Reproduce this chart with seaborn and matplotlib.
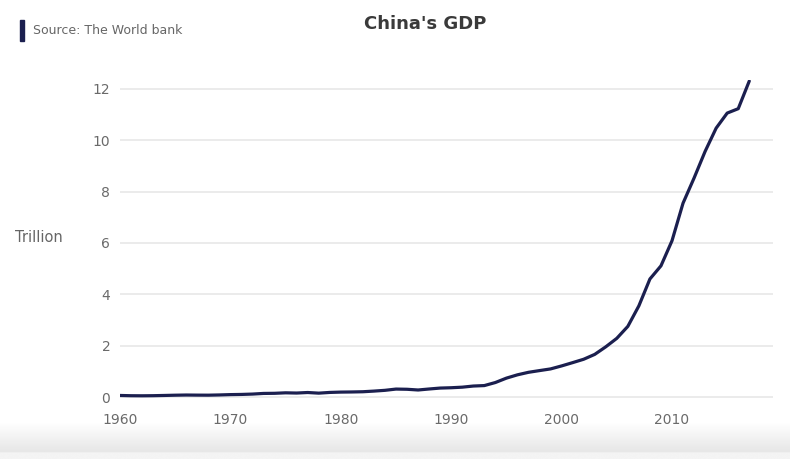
import numpy as np
import pandas as pd
import matplotlib
matplotlib.use("Agg")
import matplotlib.pyplot as plt
import seaborn as sns

years = list(range(1960, 2018))
gdp_trillion = [0.060, 0.050, 0.047, 0.051, 0.060, 0.070, 0.077, 0.073, 0.071, 0.080,
                0.093, 0.100, 0.114, 0.139, 0.144, 0.163, 0.154, 0.175, 0.150, 0.178,
                0.191, 0.196, 0.205, 0.230, 0.260, 0.309, 0.301, 0.273, 0.312, 0.348,
                0.361, 0.383, 0.427, 0.445, 0.564, 0.735, 0.864, 0.962, 1.029, 1.094,
                1.211, 1.339, 1.471, 1.660, 1.955, 2.286, 2.752, 3.552, 4.598, 5.110,
                6.087, 7.552, 8.532, 9.570, 10.476, 11.062, 11.233, 12.310]
x_ticks = [1960, 1970, 1980, 1990, 2000, 2010]
y_ticks = [0, 2, 4, 6, 8, 10, 12]
title = "China's GDP"
source = "Source: The World bank"
unit = "Trillion"

df = pd.DataFrame({"year": years, "gdp": gdp_trillion})

sns.set_theme(style="white")
plt.rcParams['font.family'] = ['DejaVu Sans']

W, H = 790, 459
fig = plt.figure(figsize=(W / 100, H / 100), dpi=100)
fig.patch.set_facecolor("white")

# bottom gradient band
gax = fig.add_axes([0, 0, 1, (H - 422) / H])
grad = np.linspace(0, 1, 100)
vals = 1 - 0.095 * np.clip(grad / 0.78, 0, 1)
vals[grad > 0.82] = 0.955
img = np.tile(vals[:, None], (1, 10))
gax.imshow(img, cmap="gray", vmin=0, vmax=1, aspect="auto", origin="upper",
           extent=[0, 1, 0, 1])
gax.set_axis_off()

px = 25.67
left, right, top, bottom = 120, 773, 80, 400
ax = fig.add_axes([left / W, 1 - bottom / H, (right - left) / W, (bottom - top) / H])
ax.set_facecolor("none")
sns.lineplot(data=df, x="year", y="gdp", ax=ax, color="#1b1f4f", linewidth=2.3)

ax.set_xlim(1960, 1960 + (right - left) / 11.04)
ax.set_ylim(-(bottom - 397) / px, 12 + (89 - top) / px)
ax.set_xticks(x_ticks)
ax.set_yticks(y_ticks)
ax.grid(axis="y", color="#e6e6e6", linewidth=1.1)
ax.grid(axis="x", visible=False)
for s in ax.spines.values():
    s.set_visible(False)
ax.tick_params(axis="both", length=0, labelsize=10, labelcolor="#6a6a6a")
ax.tick_params(axis="y", pad=7)
ax.tick_params(axis="x", pad=9)
ax.set_xlabel("")
ax.set_ylabel("")

fig.text(425 / W, 1 - 24 / H, title, ha="center", va="center", fontsize=13,
         fontweight="bold", color="#3a3a3a")
fig.text(33 / W, 1 - 30 / H, source, ha="left", va="center", fontsize=9,
         color="#666666")
fig.add_artist(plt.Rectangle((20 / W, 1 - 41 / H), 4 / W, 21 / H,
                             transform=fig.transFigure, color="#1b1f4f"))
fig.text(15 / W, 1 - 238 / H, unit, ha="left", va="center", fontsize=10.5,
         color="#666666")

fig.savefig("out.png", dpi=100)
